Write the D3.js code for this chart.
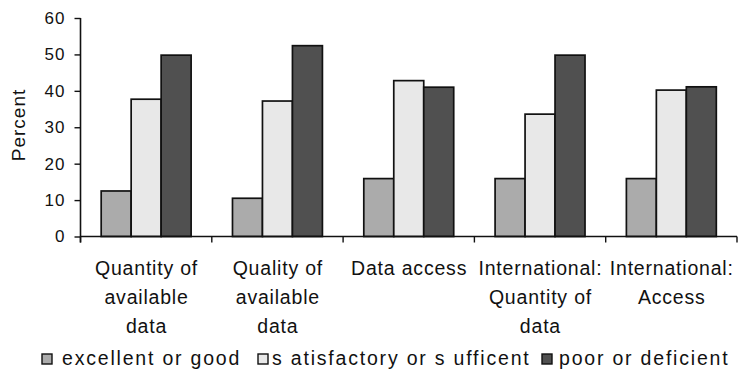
<!DOCTYPE html>
<html>
<head>
<meta charset="utf-8">
<script src="https://cdn.jsdelivr.net/npm/d3@7/dist/d3.min.js"></script>
<style>
  html, body { margin: 0; padding: 0; background: #fff; }
  svg { display: block; font-family: "Liberation Sans", Arial, sans-serif; }
</style>
</head>
<body>
<svg id="chart" width="738" height="373"></svg>
<script>
const categories = ["Quantity of available data", "Quality of available data", "Data access", "International: Quantity of data", "International: Access"];
const categoryLines = [["Quantity of", "available", "data"], ["Quality of", "available", "data"], ["Data access"], ["International:", "Quantity of", "data"], ["International:", "Access"]];
const seriesNames = ["excellent or good", "s atisfactory or s ufficent", "poor or deficient"];
const excellentOrGood = [12.5, 10.5, 15.9, 15.9, 15.9];
const satisfactoryOrSufficient = [37.7, 37.2, 42.8, 33.6, 40.2];
const poorOrDeficient = [49.8, 52.4, 41.0, 49.8, 41.1];
const seriesValues = [excellentOrGood, satisfactoryOrSufficient, poorOrDeficient];
const seriesColors = ["#ababab", "#e8e8e8", "#505050"];
const yTicks = [0, 10, 20, 30, 40, 50, 60];
const yTitle = "Percent";

const svg = d3.select("#chart");
const plotLeft = 80.5, plotRight = 737, plotTop = 18, plotBottom = 236.5;

const x = d3.scaleBand().domain(categories).range([plotLeft, plotRight]).padding(0);
const xs = d3.scaleBand().domain(seriesNames).range([0, x.bandwidth()]).paddingInner(0).paddingOuter(0.69);
const y = d3.scaleLinear().domain([0, 60]).range([plotBottom, plotTop]);

// bars
const g = svg.append("g");
categories.forEach((c, i) => {
  seriesNames.forEach((s, j) => {
    const v = seriesValues[j][i];
    g.append("rect")
      .attr("x", x(c) + xs(s))
      .attr("y", y(v))
      .attr("width", xs.bandwidth())
      .attr("height", y(0) - y(v))
      .attr("fill", seriesColors[j])
      .attr("stroke", "#111")
      .attr("stroke-width", 1.7);
  });
});

// y axis
const yAxis = d3.axisLeft(y).tickValues(yTicks).tickSize(6).tickPadding(9).tickSizeOuter(0);
const ya = svg.append("g").attr("transform", `translate(${plotLeft},0)`).call(yAxis);
ya.select(".domain").attr("stroke", "#111").attr("stroke-width", 1.6).attr("d", `M0,${plotTop}V${plotBottom + 6}`);
ya.selectAll(".tick line").attr("stroke", "#111").attr("stroke-width", 1.4);
ya.selectAll(".tick text").attr("font-size", 17).attr("fill", "#111")
  .attr("font-family", "Liberation Sans, Arial, sans-serif").style("letter-spacing", "1px");

// x axis with boundary ticks
const xa = svg.append("g").attr("transform", `translate(0,${plotBottom})`);
xa.append("line").attr("x1", plotLeft).attr("x2", plotRight).attr("stroke", "#111").attr("stroke-width", 1.6);
const bounds = categories.map(c => x(c)).concat([plotRight]);
xa.selectAll(".bt").data(bounds).join("line")
  .attr("x1", d => d).attr("x2", d => d).attr("y1", 0).attr("y2", 6)
  .attr("stroke", "#111").attr("stroke-width", 1.4);

// category labels
const lineBase = [275, 304, 333];
categories.forEach((c, i) => {
  const cx = x(c) + x.bandwidth() / 2;
  categoryLines[i].forEach((ln, k) => {
    svg.append("text").attr("x", cx + 0.4).attr("y", lineBase[k])
      .attr("text-anchor", "middle").attr("font-size", 19.5).attr("fill", "#111")
      .style("letter-spacing", "0.8px").text(ln);
  });
});

// y title
svg.append("text").attr("transform", "translate(25,125) rotate(-90)")
  .attr("text-anchor", "middle").attr("font-size", 19).attr("fill", "#111")
  .style("letter-spacing", "1px").text(yTitle);

// legend
const legendX = [42, 258, 542];
const legendTextX = [62, 272, 559];
const lg = svg.append("g");
seriesNames.forEach((s, j) => {
  lg.append("rect").attr("x", legendX[j]).attr("y", 354).attr("width", 10).attr("height", 10)
    .attr("fill", seriesColors[j]).attr("stroke", "#111").attr("stroke-width", 1.4);
  lg.append("text").attr("x", legendTextX[j]).attr("y", 365)
    .attr("font-size", 19.5).attr("fill", "#111").style("letter-spacing", "1.8px").text(s);
});
</script>
</body>
</html>
